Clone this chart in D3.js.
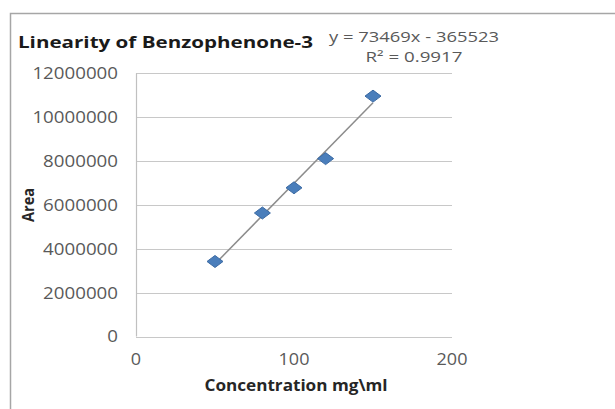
<!DOCTYPE html>
<meta charset="utf-8">
<style>
body { margin: 0; background: #fff; }
svg text { font-family: "Open Sans", "DejaVu Sans", sans-serif; }
.grid line { stroke: #c8c8c8; stroke-width: 1.2px; }
.tick-label { fill: #595959; font-size: 16.5px; }
</style>
<svg width="615" height="409"></svg>
<script src="https://d3js.org/d3.v7.min.js"></script>
<script>

// Data
var concentration = [50, 80, 100, 120, 150];
var area = [3420000, 5630000, 6780000, 8110000, 10960000];
var yTicks = [0, 2000000, 4000000, 6000000, 8000000, 10000000, 12000000];
var xTicks = [0, 100, 200];
var trendCoef = [73469, -365523];   // slope, intercept from the equation label
var equationLines = ["y = 73469x - 365523", "R² = 0.9917"];

var svg = d3.select("svg");

// the source picture is stretched sideways, so text gets a set width
function stretch(sel, w) {
  sel.attr("textLength", w).attr("lengthAdjust", "spacingAndGlyphs");
}

// outer chart border (runs off the right and bottom edges)
svg.append("rect")
    .attr("x", 10.5).attr("y", 13.5)
    .attr("width", 640).attr("height", 420)
    .attr("fill", "#fff")
    .attr("stroke", "#a6a6a6")
    .attr("stroke-width", 1.5);

var x = d3.scaleLinear().domain([0, 200]).range([136, 452]);
var y = d3.scaleLinear().domain([0, 12000000]).range([336.5, 73.3]);

// horizontal gridlines
svg.append("g").attr("class", "grid")
  .selectAll("line")
  .data(yTicks)
  .enter().append("line")
    .attr("x1", x(0)).attr("x2", x(200))
    .attr("y1", function(d) { return Math.round(y(d)) + 0.5; })
    .attr("y2", function(d) { return Math.round(y(d)) + 0.5; });

// vertical axis line
svg.append("line")
    .attr("x1", x(0) + 0.5).attr("x2", x(0) + 0.5)
    .attr("y1", y(12000000)).attr("y2", y(0))
    .attr("stroke", "#c0c0c0").attr("stroke-width", 1.2);

// y tick labels
svg.append("g").selectAll("text")
  .data(yTicks)
  .enter().append("text")
    .attr("class", "tick-label")
    .attr("x", 118)
    .attr("y", function(d) { return y(d); })
    .attr("dy", "0.36em")
    .attr("text-anchor", "end")
    .text(function(d) { return d; })
    .each(function(d) { stretch(d3.select(this), String(d).length * 10.7); });

// x tick labels
svg.append("g").selectAll("text")
  .data(xTicks)
  .enter().append("text")
    .attr("class", "tick-label")
    .attr("x", function(d) { return x(d); })
    .attr("y", 359)
    .attr("dy", "0.36em")
    .attr("text-anchor", "middle")
    .text(function(d) { return d; })
    .each(function(d) { stretch(d3.select(this), String(d).length * 10.3); });

// linear trendline over the data range
var xExt = d3.extent(concentration);
svg.append("line")
    .attr("x1", x(xExt[0])).attr("y1", y(trendCoef[0] * xExt[0] + trendCoef[1]))
    .attr("x2", x(xExt[1])).attr("y2", y(trendCoef[0] * xExt[1] + trendCoef[1]))
    .attr("stroke", "#8c8c8c")
    .attr("stroke-width", 1.5);

// diamond markers
svg.append("g").selectAll("path")
  .data(concentration)
  .enter().append("path")
    .attr("d", "M0,-6L8,0L0,6L-8,0Z")
    .attr("transform", function(d, i) { return "translate(" + x(d) + "," + y(area[i]) + ")"; })
    .attr("fill", "#4a7ebb")
    .attr("stroke", "#3b6aa3")
    .attr("stroke-width", 1);

// title
svg.append("text")
    .attr("x", 18).attr("y", 48)
    .attr("font-size", 16.5)
    .attr("font-weight", "bold")
    .attr("fill", "#1a1a1a")
    .text("Linearity of Benzophenone-3")
    .call(stretch, 295);

// trendline equation
var eqWidths = [170, 97];
svg.append("g").selectAll("text")
  .data(equationLines)
  .enter().append("text")
    .attr("x", 414)
    .attr("y", function(d, i) { return 37 + i * 20; })
    .attr("dy", "0.35em")
    .attr("text-anchor", "middle")
    .attr("font-size", 14)
    .attr("fill", "#595959")
    .text(function(d) { return d; })
    .each(function(d, i) { stretch(d3.select(this), eqWidths[i]); });

// axis titles
svg.append("text")
    .attr("x", 296).attr("y", 385)
    .attr("dy", "0.35em")
    .attr("text-anchor", "middle")
    .attr("font-size", 16)
    .attr("font-weight", "bold")
    .attr("fill", "#262626")
    .text("Concentration mg\\ml")
    .call(stretch, 183);

svg.append("text")
    .attr("transform", "translate(28,205) rotate(-90)")
    .attr("dy", "0.35em")
    .attr("text-anchor", "middle")
    .attr("font-size", 16)
    .attr("font-weight", "bold")
    .attr("fill", "#262626")
    .text("Area")
    .call(stretch, 34);

</script>
